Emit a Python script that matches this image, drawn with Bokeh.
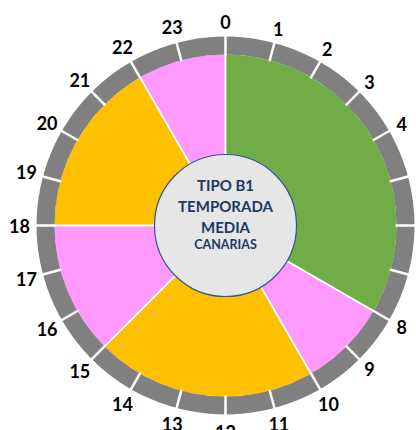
import numpy as np
from bokeh.plotting import figure
from bokeh.models import Range1d, ColumnDataSource
from bokeh.core.properties import value
from bokeh.embed import file_html
from bokeh.resources import INLINE

# ---- data ----
hours = list(range(24))
hour_labels = [str(h) for h in hours]
period_start = [0, 8, 10, 15, 18, 22]
period_end = [8, 10, 15, 18, 22, 24]
period_name = ["valle", "llano", "punta", "llano", "punta", "llano"]
period_colors = {"valle": "#70AD47", "llano": "#FF99FF", "punta": "#FFC000"}
center_lines = ["TIPO B1", "TEMPORADA", "MEDIA", "CANARIAS"]

# ---- geometry / style ----
R_SECT = 171
R_RING_OUT = 189
R_CENTER = 71

W, H = 416, 430
CX, CY = 225, 225

p = figure(width=W, height=H, output_backend="svg", toolbar_location=None,
           x_range=Range1d(-CX, W - CX), y_range=Range1d(-(H - CY), CY),
           min_border=0, match_aspect=False)
p.axis.visible = False
p.grid.visible = False
p.outline_line_color = None
p.background_fill_color = "white"
p.border_fill_color = "white"


def ang(h):
    return np.deg2rad(90 - 15 * np.asarray(h, dtype=float))


# colored sectors
sect = ColumnDataSource(dict(
    start=ang(period_end), end=ang(period_start),
    color=[period_colors[n] for n in period_name]))
p.wedge(x=0, y=0, radius=R_SECT, start_angle="start", end_angle="end",
        fill_color="color", line_color=None, source=sect)

# white radial separators between sectors
b = ang(period_start)
p.segment(x0=0, y0=0, x1=(R_SECT + 1) * np.cos(b), y1=(R_SECT + 1) * np.sin(b),
          line_color="white", line_width=1.8)

# gray hour ring
p.annulus(x=0, y=0, inner_radius=R_SECT, outer_radius=R_RING_OUT,
          fill_color="#808080", line_color=None)
a = ang(hours)
p.segment(x0=(R_SECT - 1) * np.cos(a), y0=(R_SECT - 1) * np.sin(a),
          x1=(R_RING_OUT + 2) * np.cos(a), y1=(R_RING_OUT + 2) * np.sin(a),
          line_color="white", line_width=2.5)

# hour labels (label radius grows slightly with label length)
r_lab = np.array([201 + 2.5 * len(s) for s in hour_labels])
p.text(x=r_lab * np.cos(a), y=r_lab * np.sin(a), text=hour_labels,
       text_font=value("Lato"), text_font_style="bold", text_font_size="18px",
       text_color="black", text_align="center", text_baseline="middle")

# center circle
p.circle(x=0, y=0, radius=R_CENTER, fill_color="#E7E6E6",
         line_color="#2F5597", line_width=1.2)

p.text(x=[0, 0, 0], y=[41, 20, -1], text=center_lines[:3],
       text_font=value("Lato"), text_font_style="bold", text_font_size="15px",
       text_color="#203864", text_align="center", text_baseline="middle")
p.text(x=[0], y=[-19], text=center_lines[3:],
       text_font=value("Lato"), text_font_style="bold", text_font_size="12.5px",
       text_color="#203864", text_align="center", text_baseline="middle")

open("out.html", "w").write(file_html(p, INLINE))
